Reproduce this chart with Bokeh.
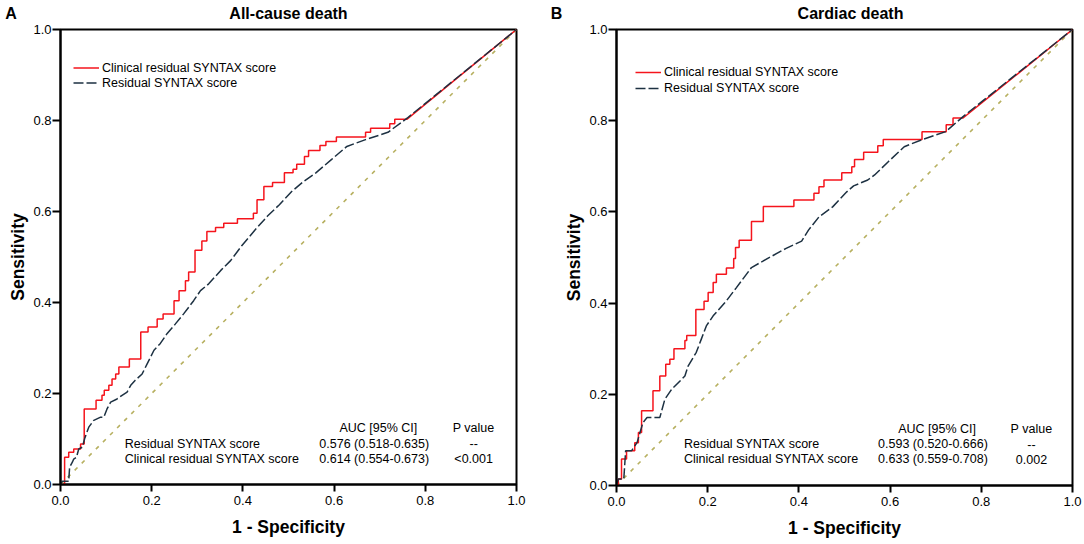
from bokeh.plotting import figure
from bokeh.models import Range1d, FixedTicker, Legend, LegendItem
from bokeh.layouts import row, column
from bokeh.embed import file_html
from bokeh.resources import INLINE
from bokeh.core.properties import value

FONT = "Liberation Sans"

# ---------------- data ----------------
TICKS = [0.0, 0.2, 0.4, 0.6, 0.8, 1.0]
TICK_LABELS = ["0.0", "0.2", "0.4", "0.6", "0.8", "1.0"]
PANEL_LETTERS = ["A", "B"]
TITLES = ["All-cause death", "Cardiac death"]
X_LABEL = "1 - Specificity"
Y_LABEL = "Sensitivity"
SERIES = ["Clinical residual SYNTAX score", "Residual SYNTAX score"]

TABLE_HEAD = ["AUC [95% CI]", "P value"]
TABLE_NAMES = ["Residual SYNTAX score", "Clinical residual SYNTAX score"]
A_AUC = ["0.576 (0.518-0.635)", "0.614 (0.554-0.673)"]
A_PVAL = ["--", "<0.001"]
B_AUC = ["0.593 (0.520-0.666)", "0.633 (0.559-0.708)"]
B_PVAL = ["--", "0.002"]

# Panel A, clinical residual SYNTAX score: staircase (at x the curve rises to y)
A_CRSS_X = [0.000, 0.009, 0.018, 0.029, 0.044, 0.052, 0.078, 0.091, 0.096, 0.106,
            0.113, 0.121, 0.128, 0.151, 0.176, 0.192, 0.212, 0.225, 0.249, 0.260,
            0.274, 0.281, 0.295, 0.310, 0.321, 0.340, 0.358, 0.388, 0.423, 0.431,
            0.446, 0.465, 0.491, 0.510, 0.518, 0.535, 0.544, 0.569, 0.582, 0.605,
            0.669, 0.680, 0.722, 0.733, 0.760, 1.000]
A_CRSS_Y = [0.000, 0.060, 0.071, 0.078, 0.089, 0.166, 0.185, 0.196, 0.207, 0.218,
            0.232, 0.243, 0.258, 0.276, 0.335, 0.346, 0.364, 0.375, 0.404, 0.426,
            0.448, 0.467, 0.515, 0.535, 0.556, 0.565, 0.574, 0.584, 0.596, 0.626,
            0.655, 0.664, 0.685, 0.693, 0.704, 0.721, 0.734, 0.745, 0.754, 0.764,
            0.774, 0.783, 0.793, 0.803, 0.803, 1.000]
# Panel A, residual SYNTAX score: polyline
A_RSS_X = [0.000, 0.004, 0.018, 0.020, 0.026, 0.029, 0.035, 0.040, 0.048, 0.053,
           0.062, 0.073, 0.088, 0.095, 0.102, 0.110, 0.124, 0.135, 0.146, 0.154,
           0.164, 0.179, 0.190, 0.205, 0.219, 0.234, 0.252, 0.270, 0.292, 0.307,
           0.325, 0.351, 0.373, 0.397, 0.427, 0.454, 0.480, 0.507, 0.533, 0.560,
           0.594, 0.628, 0.669, 0.718, 0.760, 1.000]
A_RSS_Y = [0.000, 0.007, 0.007, 0.038, 0.049, 0.056, 0.060, 0.078, 0.082, 0.101,
           0.126, 0.141, 0.148, 0.148, 0.166, 0.181, 0.188, 0.196, 0.203, 0.218,
           0.229, 0.243, 0.265, 0.295, 0.310, 0.332, 0.353, 0.375, 0.404, 0.426,
           0.441, 0.470, 0.492, 0.524, 0.560, 0.590, 0.615, 0.644, 0.666, 0.685,
           0.714, 0.743, 0.758, 0.774, 0.805, 1.000]

# Panel B, clinical residual SYNTAX score: staircase
B_CRSS_X = [0.000, 0.004, 0.011, 0.022, 0.040, 0.048, 0.055, 0.080, 0.095, 0.108,
            0.117, 0.126, 0.150, 0.154, 0.174, 0.192, 0.201, 0.212, 0.219, 0.241,
            0.257, 0.261, 0.269, 0.296, 0.322, 0.389, 0.433, 0.444, 0.455, 0.494,
            0.516, 0.522, 0.542, 0.573, 0.585, 0.670, 0.723, 0.738, 0.760, 1.000]
B_CRSS_Y = [0.000, 0.014, 0.058, 0.076, 0.094, 0.116, 0.164, 0.208, 0.240, 0.266,
            0.277, 0.300, 0.318, 0.329, 0.386, 0.404, 0.423, 0.445, 0.463, 0.477,
            0.498, 0.522, 0.538, 0.579, 0.612, 0.626, 0.641, 0.655, 0.670, 0.686,
            0.699, 0.715, 0.731, 0.745, 0.759, 0.776, 0.791, 0.806, 0.806, 1.000]
# Panel B, residual SYNTAX score: polyline
B_RSS_X = [0.000, 0.004, 0.016, 0.020, 0.033, 0.045, 0.058, 0.067, 0.095, 0.106,
           0.121, 0.150, 0.157, 0.175, 0.186, 0.197, 0.212, 0.241, 0.263, 0.296,
           0.337, 0.372, 0.406, 0.421, 0.444, 0.474, 0.505, 0.520, 0.551, 0.566,
           0.596, 0.631, 0.669, 0.722, 0.760, 1.000]
B_RSS_Y = [0.000, 0.014, 0.014, 0.076, 0.076, 0.094, 0.138, 0.149, 0.149, 0.189,
           0.211, 0.240, 0.262, 0.292, 0.321, 0.350, 0.372, 0.405, 0.434, 0.478,
           0.501, 0.520, 0.536, 0.560, 0.589, 0.611, 0.644, 0.657, 0.670, 0.681,
           0.710, 0.743, 0.758, 0.776, 0.809, 1.000]

REF_X = [0.0, 1.0]
REF_Y = [0.0, 1.0]

RED = "#f5141c"
NAVY = "#1d3142"
OLIVE = "#b7b060"

PAGE_W = 1082
HEAD_H = 23


def staircase(xs, ys):
    """Turn step points into vertices: the last point is joined straight."""
    vx, vy = [xs[0]], [ys[0]]
    for i in range(1, len(xs) - 1):
        vx += [xs[i], xs[i]]
        vy += [ys[i - 1], ys[i]]
    vx.append(xs[-1])
    vy.append(ys[-1])
    return vx, vy


def make_panel(cx, cy, rx, ry, auc, pval, geo):
    p = figure(frame_width=456, frame_height=geo["fh"],
               x_range=Range1d(0, 1), y_range=Range1d(0, 1),
               min_border_left=geo["bl"], min_border_right=geo["br"],
               min_border_top=geo["bt"], min_border_bottom=geo["bb"],
               output_backend="svg", toolbar_location=None,
               background_fill_color="white", border_fill_color="white")
    p.grid.visible = False
    p.outline_line_color = "black"
    p.outline_line_width = 2
    p.outline_line_alpha = 1

    for ax in (p.xaxis[0], p.yaxis[0]):
        ax.ticker = FixedTicker(ticks=TICKS)
        ax.major_label_overrides = {t: s for t, s in zip(TICKS, TICK_LABELS)}
        ax.axis_line_width = 2
        ax.axis_line_color = "black"
        ax.major_tick_line_width = 2
        ax.major_tick_line_color = "black"
        ax.major_tick_in = 0
        ax.minor_tick_line_color = None
        ax.major_label_text_font = FONT
        ax.major_label_text_font_size = "13px"
        ax.major_label_text_color = "black"
        ax.axis_label_text_font = FONT
        ax.axis_label_text_font_style = "bold"
        ax.axis_label_text_font_size = "17.5px"
        ax.axis_label_text_color = "black"
    p.xaxis.axis_label = X_LABEL
    p.yaxis.axis_label = Y_LABEL
    p.xaxis.major_tick_out = 7
    p.yaxis.major_tick_out = 8
    p.xaxis.major_label_standoff = 4
    p.yaxis.major_label_standoff = 1
    p.xaxis.axis_label_standoff = 9
    p.yaxis.axis_label_standoff = 2

    p.line(REF_X, REF_Y, line_color=OLIVE, line_width=1.6, line_dash="4 6")
    sx, sy = staircase(cx, cy)
    r_red = p.line(sx, sy, line_color=RED, line_width=1.5)
    r_navy = p.line(rx, ry, line_color=NAVY, line_width=1.5, line_dash="10 3")

    legend = Legend(items=[LegendItem(label=SERIES[0], renderers=[r_red]),
                           LegendItem(label=SERIES[1], renderers=[r_navy])],
                    location=geo["leg"], orientation="vertical",
                    glyph_width=26, glyph_height=geo["lh"], label_height=geo["lh"],
                    label_standoff=3, spacing=0, padding=0, margin=0,
                    border_line_color=None, background_fill_alpha=0,
                    label_text_font=FONT, label_text_font_size="12.5px",
                    label_text_color="black")
    p.add_layout(legend)

    t = geo["tab"]
    fs = "12.5px"
    p.text(x=[t["auc_x"], t["p_x"]], y=[t["head_y"]] * 2, text=TABLE_HEAD,
           text_align="center", text_baseline="middle",
           text_font=value(FONT), text_font_size=fs, text_color="black")
    p.text(x=[t["name_x"]] * 2, y=t["rows_y"], text=TABLE_NAMES,
           text_align="left", text_baseline="middle",
           text_font=value(FONT), text_font_size=fs, text_color="black")
    p.text(x=[t["val_x"]] * 2, y=t["rows_y"], text=auc,
           text_align="center", text_baseline="middle",
           text_font=value(FONT), text_font_size=fs, text_color="black")
    p.text(x=[t["p_x"]] * 2, y=t["rows_y"], text=pval,
           text_align="center", text_baseline="middle",
           text_font=value(FONT), text_font_size=fs, text_color="black")
    return p


# header band with the panel letters and titles (pixel-based range)
head = figure(frame_width=PAGE_W, frame_height=HEAD_H,
              x_range=Range1d(0, PAGE_W), y_range=Range1d(0, HEAD_H),
              min_border_left=0, min_border_right=0, min_border_top=0, min_border_bottom=0,
              x_axis_type=None, y_axis_type=None,
              output_backend="svg", toolbar_location=None,
              background_fill_color="white", border_fill_color="white")
head.grid.visible = False
head.outline_line_color = None
head.text(x=[10.5, 556], y=[9.6, 9.6], text=PANEL_LETTERS,
          text_align="center", text_baseline="middle",
          text_font=value(FONT), text_font_style="bold", text_font_size="16px",
          text_color="black")
head.text(x=[288, 850], y=[9.6, 10.4], text=TITLES,
          text_align="center", text_baseline="middle",
          text_font=value(FONT), text_font_style="bold", text_font_size="16px",
          text_color="black")

geoA = dict(fh=455, bl=60, br=40, bt=6, bb=56, leg=(13, 394), lh=15,
            tab=dict(auc_x=0.697, p_x=0.906, head_y=0.124, name_x=0.141,
                     val_x=0.688, rows_y=[0.090, 0.057]))
geoB = dict(fh=456, bl=60, br=10, bt=4, bb=57, leg=(19, 389), lh=16,
            tab=dict(auc_x=0.703, p_x=0.910, head_y=0.123, name_x=0.148,
                     val_x=0.694, rows_y=[0.0905, 0.0577]))

pA = make_panel(A_CRSS_X, A_CRSS_Y, A_RSS_X, A_RSS_Y, A_AUC, A_PVAL, geoA)
pB = make_panel(B_CRSS_X, B_CRSS_Y, B_RSS_X, B_RSS_Y, B_AUC, B_PVAL, geoB)

page = column(head, row(pA, pB))
open("out.html", "w").write(file_html(page, INLINE))
